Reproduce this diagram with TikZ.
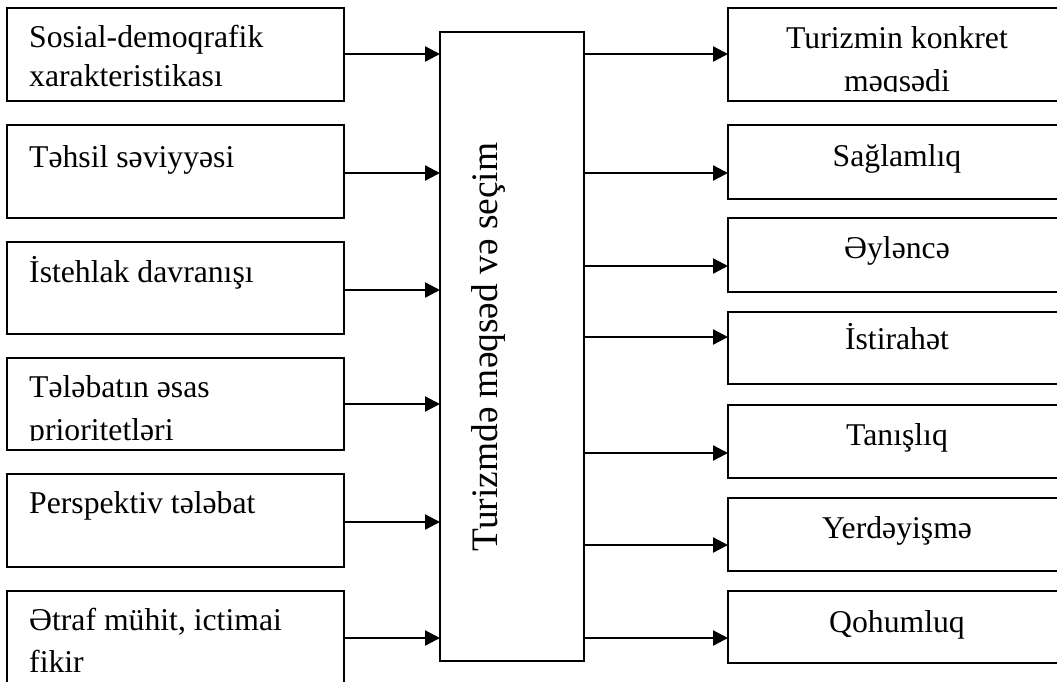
\documentclass[tikz,border=0pt]{standalone}
\usepackage{fontspec}
\setmainfont{Liberation Serif}
\usetikzlibrary{arrows.meta}
\begin{document}
\begin{tikzpicture}[x=1pt,y=-1pt,
  box/.style={draw,line width=2.3pt,inner sep=0pt,outer sep=0pt,anchor=north west},
  lbl/.style={font=\fontsize{31.7}{36}\selectfont,inner sep=0pt},
  rlbl/.style={lbl,anchor=base},
  llbl/.style={lbl,anchor=base west},
  arr/.style={line width=2.3pt,-{Triangle[length=15pt,width=15pt]}}]
\useasboundingbox (0,0) rectangle (1057,681);
% left boxes
\node[box,minimum width=337pt,minimum height=93pt] (L1) at (7,8) {};
\node[box,minimum width=337pt,minimum height=93pt] (L2) at (7,125) {};
\node[box,minimum width=337pt,minimum height=92pt] (L3) at (7,242) {};
\node[box,minimum width=337pt,minimum height=92pt] (L4) at (7,358) {};
\node[box,minimum width=337pt,minimum height=93pt] (L5) at (7,474) {};
\node[box,minimum width=337pt,minimum height=93pt] (L6) at (7,591) {};
% centre box
\node[box,minimum width=144pt,minimum height=629pt] (M) at (440,32) {};
% right boxes
\node[box,minimum width=338pt,minimum height=93pt] (R1) at (728,8) {};
\node[box,minimum width=338pt,minimum height=74pt] (R2) at (728,125) {};
\node[box,minimum width=338pt,minimum height=74pt] (R3) at (728,218) {};
\node[box,minimum width=338pt,minimum height=72pt] (R4) at (728,312) {};
\node[box,minimum width=338pt,minimum height=73pt] (R5) at (728,405) {};
\node[box,minimum width=338pt,minimum height=73pt] (R6) at (728,498) {};
\node[box,minimum width=338pt,minimum height=72pt] (R7) at (728,591) {};
% texts
\begin{scope}
\clip (L1.north west) rectangle ([yshift=10pt]L1.south east);
\node[llbl] (t1a) at (29,47) {Sosial-demoqrafik};
\node[llbl] (t1b) at (29,86) {xarakteristikası};
\end{scope}
\node[llbl] (t2) at (29,167) {Təhsil səviyyəsi};
\node[llbl] (t3) at (29,282) {İstehlak davranışı};
\begin{scope}
\clip (L4.north west) rectangle ([yshift=10pt]L4.south east);
\node[llbl] (t4a) at (29,397) {Tələbatın əsas};
\node[llbl] (t4b) at (29,440) {prioritetləri};
\end{scope}
\node[llbl] (t5) at (29,513) {Perspektiv tələbat};
\node[llbl] (t6a) at (29,630) {Ətraf mühit, ictimai};
\node[llbl] (t6b) at (29,672) {fikir};
\node[rotate=90,anchor=base,inner sep=0pt,font=\fontsize{37.4}{40}\selectfont] (mt) at (497,347) {Turizmdə məqsəd və seçim};
\begin{scope}
\clip (R1.north west) rectangle ([yshift=10pt]R1.south east);
\node[rlbl] (r1a) at (897,48) {Turizmin konkret};
\node[rlbl] (r1b) at (897,91) {məqsədi};
\end{scope}
\node[rlbl] (r2) at (897,166) {Sağlamlıq};
\node[rlbl] (r3) at (897,258) {Əyləncə};
\node[rlbl] (r4) at (897,349) {İstirahət};
\node[rlbl] (r5) at (897,445) {Tanışlıq};
\node[rlbl] (r6) at (897,538) {Yerdəyişmə};
\node[rlbl] (r7) at (897,632) {Qohumluq};
% arrow levels
\coordinate (a1) at (0,54);
\coordinate (a2) at (0,173);
\coordinate (a3) at (0,290);
\coordinate (a4) at (0,404);
\coordinate (a5) at (0,522);
\coordinate (a6) at (0,638);
\coordinate (b1) at (0,54);
\coordinate (b2) at (0,173);
\coordinate (b3) at (0,266);
\coordinate (b4) at (0,337);
\coordinate (b5) at (0,453);
\coordinate (b6) at (0,545);
\coordinate (b7) at (0,638);
\foreach \i in {1,...,6}{\draw[arr] (L\i.east |- a\i) -- (M.west |- a\i);}
\foreach \i in {1,...,7}{\draw[arr] (M.east |- b\i) -- (R\i.west |- b\i);}
\end{tikzpicture}
\end{document}
